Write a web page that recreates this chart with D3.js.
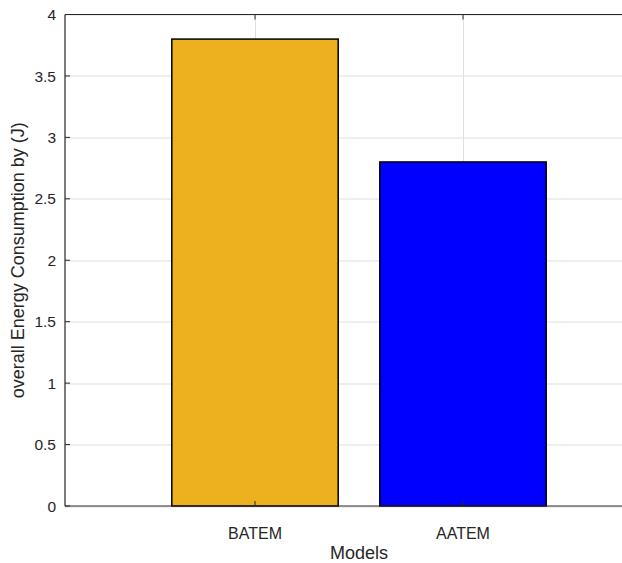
<!DOCTYPE html>
<html>
<head>
<meta charset="utf-8">
<script src="https://cdn.jsdelivr.net/npm/d3@7"></script>
<style>
  body { margin:0; background:#fff; overflow:hidden; }
  text { font-family: "Liberation Sans", Arial, sans-serif; fill:#262626; }
</style>
</head>
<body>
<div class="svgWrap"></div>
<script>
var categories = ['BATEM', 'AATEM'];
var values = [3.8, 2.8];
var barColors = ['#EDB120', '#0000FF'];
var yTicks = [0, 0.5, 1, 1.5, 2, 2.5, 3, 3.5, 4];

var margin = {top:14.5, left:65};
var height = 506 - margin.top;
var width = 588;

// x positions are category index 1,2 like matlab
var x = d3.scaleLinear().domain([0.0865, 2.9135]).range([0, width]);
var y = d3.scaleLinear().domain([0, 4]).range([height, 0]);

var svg = d3.select('.svgWrap').append('svg')
  .attr('width', 622).attr('height', 563);
var g = svg.append('g')
  .attr('transform', 'translate(' + margin.left + ',' + margin.top + ')');

// grid
g.selectAll('.hgrid').data(yTicks).enter().append('line')
  .attr('x1', 0).attr('x2', width)
  .attr('y1', function(d){ return Math.round(y(d)) + 0.5; })
  .attr('y2', function(d){ return Math.round(y(d)) + 0.5; })
  .attr('stroke', '#dfdfdf');
g.selectAll('.vgrid').data(categories).enter().append('line')
  .attr('x1', function(d,i){ return Math.round(x(i+1)) + 0.5; })
  .attr('x2', function(d,i){ return Math.round(x(i+1)) + 0.5; })
  .attr('y1', 0).attr('y2', height)
  .attr('stroke', '#dfdfdf');

// bars
g.selectAll('.bar').data(values).enter().append('rect')
  .attr('class', 'bar')
  .attr('x', function(d,i){ return x(i + 1 - 0.4); })
  .attr('width', x(1.8) - x(1))
  .attr('y', function(d){ return y(d); })
  .attr('height', function(d){ return height - y(d); })
  .attr('fill', function(d,i){ return barColors[i]; })
  .attr('stroke', '#000')
  .attr('stroke-width', 1.5);

// axes box
g.append('line').attr('x1', 0).attr('x2', width).attr('y1', height).attr('y2', height)
  .attr('stroke', '#262626').attr('stroke-width', 1.2);
g.append('line').attr('x1', 0).attr('x2', width).attr('y1', 0).attr('y2', 0)
  .attr('stroke', '#262626').attr('stroke-width', 1.2);
g.append('line').attr('x1', 0).attr('x2', 0).attr('y1', 0).attr('y2', height)
  .attr('stroke', '#262626').attr('stroke-width', 1.2);

// ticks
g.selectAll('.ytick').data(yTicks).enter().append('line')
  .attr('x1', 0).attr('x2', 5)
  .attr('y1', function(d){ return y(d); }).attr('y2', function(d){ return y(d); })
  .attr('stroke', '#262626');
categories.forEach(function(c, i){
  g.append('line').attr('x1', x(i+1)).attr('x2', x(i+1)).attr('y1', height).attr('y2', height - 5)
    .attr('stroke', '#262626');
  g.append('line').attr('x1', x(i+1)).attr('x2', x(i+1)).attr('y1', 0).attr('y2', 5)
    .attr('stroke', '#262626');
});

// tick labels
g.selectAll('.ylab').data(yTicks).enter().append('text')
  .attr('x', -9).attr('y', function(d){ return y(d); })
  .attr('dy', '0.36em')
  .attr('text-anchor', 'end')
  .style('font-size', '15.5px')
  .text(function(d){ return d; });
g.selectAll('.xlab').data(categories).enter().append('text')
  .attr('x', function(d,i){ return x(i+1); })
  .attr('y', height + 33)
  .attr('text-anchor', 'middle')
  .style('font-size', '16px')
  .text(function(d){ return d; });

// axis titles
g.append('text')
  .attr('x', width/2).attr('y', height + 53)
  .attr('text-anchor', 'middle')
  .style('font-size', '18px')
  .text('Models');
svg.append('text')
  .attr('transform', 'translate(24,' + (margin.top + height/2) + ') rotate(-90)')
  .attr('text-anchor', 'middle')
  .style('font-size', '18px')
  .text('overall Energy Consumption by (J)');
</script>
</body>
</html>
